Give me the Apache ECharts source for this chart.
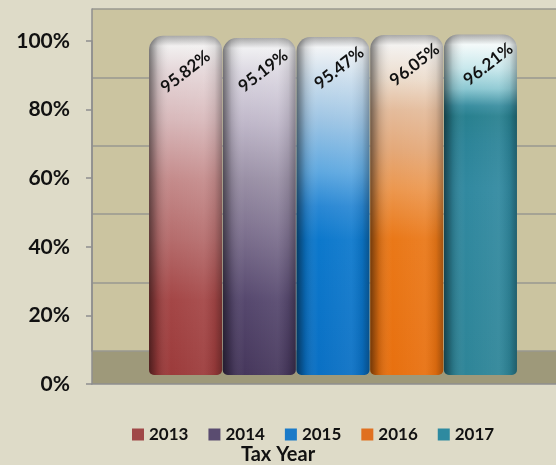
<!DOCTYPE html>
<html><head><meta charset="utf-8">
<script src="https://cdn.jsdelivr.net/npm/echarts@6/dist/echarts.min.js"></script>
<style>html,body{margin:0;padding:0;background:#dedbc8;}#c{width:556px;height:465px;}</style>
</head><body><div id="c"></div>
<script>
const years = ['2013', '2014', '2015', '2016', '2017'];
const values = [95.82, 95.19, 95.47, 96.05, 96.21];
const yTicks = [0, 20, 40, 60, 80, 100];
const axisTitle = 'Tax Year';

const gradStops = [
  [[0,'#a8a8a8'],[0.03,'#f2f0f0'],[0.1,'#e6d8da'],[0.25,'#d8b8ba'],[0.42,'#c58c8c'],[0.6,'#b56c6c'],[0.78,'#a44646'],[1,'#9c3b3b']],
  [[0,'#a8a8a8'],[0.03,'#f0f0f2'],[0.1,'#dcd8e2'],[0.25,'#c0b8ca'],[0.42,'#9a90a6'],[0.6,'#7a6d8c'],[0.78,'#56486e'],[1,'#46375c']],
  [[0,'#a8a8a8'],[0.03,'#f2f4f6'],[0.13,'#c8dcec'],[0.25,'#9cc4e4'],[0.4,'#5ea8e0'],[0.5,'#2a88d4'],[0.6,'#0c78cc'],[1,'#0a70c4']],
  [[0,'#a8a8a8'],[0.03,'#f4f2f0'],[0.13,'#ecdccc'],[0.22,'#e4bc9c'],[0.34,'#e4a878'],[0.45,'#ec9850'],[0.6,'#ea7818'],[1,'#e8700f']],
  [[0,'#a8a8a8'],[0.03,'#f4fafa'],[0.1,'#c8e8ec'],[0.16,'#8cc8d2'],[0.21,'#3a8ea0'],[0.24,'#28808f'],[0.32,'#2c8498'],[0.45,'#3189a0'],[1,'#2e8598']]
];
const legendColors = ['#a04848', '#5a4c70', '#1a7ac8', '#e07020', '#2e8aa0'];
const labelShift = [0, 5, 8, 10, 10];

const chart = echarts.init(document.getElementById('c'), null, {renderer: 'canvas'});
const FONT = 'Lato';
const grad = s => new echarts.graphic.LinearGradient(0, 0, 0, 1, s.map(([o, c]) => ({offset: o, color: c})));
const shade = new echarts.graphic.LinearGradient(0, 0, 1, 0, [
  {offset: 0, color: 'rgba(0,0,0,0.5)'},
  {offset: 0.12, color: 'rgba(0,0,0,0.14)'},
  {offset: 0.3, color: 'rgba(255,255,255,0.0)'},
  {offset: 0.75, color: 'rgba(255,255,255,0.06)'},
  {offset: 0.9, color: 'rgba(0,0,0,0.08)'},
  {offset: 1, color: 'rgba(0,0,0,0.3)'}
]);
const radius = [14, 14, 5, 5];
const BW = 73;

const series = [];
years.forEach((y, i) => {
  series.push({
    name: y, type: 'bar', xAxisIndex: 2, yAxisIndex: 2,
    data: [values[i]], barWidth: BW, barGap: '1%',
    itemStyle: {color: grad(gradStops[i]), borderRadius: radius},
    z: 3
  });
});
years.forEach((y, i) => {
  series.push({
    name: 'shade' + y, type: 'bar', xAxisIndex: 3, yAxisIndex: 2,
    data: [values[i]], barWidth: BW, barGap: '1%', silent: true,
    itemStyle: {color: shade, borderRadius: radius},
    label: {
      show: true, position: 'insideTop', distance: 36, rotate: 38,
      align: 'center', verticalAlign: 'middle', offset: [labelShift[i], 0],
      formatter: p => p.value.toFixed(2) + '%',
      fontFamily: FONT, fontWeight: 'bold', fontSize: 17, color: '#111'
    },
    z: 4
  });
});
series.push({name: 'floor', type: 'bar', xAxisIndex: 4, yAxisIndex: 4, data: [], silent: true});

chart.setOption({
  backgroundColor: '#dedbc8',
  animation: false,
  grid: [
    {left: 92, right: -40, top: 41, bottom: 81, show: false},
    {left: 92, right: -40, top: 9, bottom: 114, show: true, backgroundColor: '#cbc4a0', borderWidth: 0},
    {left: 149, right: 39, top: 21, bottom: 90, show: false},
    {left: 149, right: 39, top: 21, bottom: 90, show: false},
    {left: 92, right: -40, top: 351, bottom: 81, show: true, backgroundColor: '#9e997a', borderWidth: 0}
  ],
  xAxis: [
    {type: 'category', gridIndex: 0, data: [''], axisLine: {show: true, lineStyle: {color: '#8f8f8f', width: 1.5}}, axisTick: {show: false}, axisLabel: {show: false}, z: 5},
    {type: 'category', gridIndex: 1, data: [''], show: false},
    {type: 'category', gridIndex: 2, data: [''], show: false},
    {type: 'category', gridIndex: 2, data: [''], show: false},
    {type: 'category', gridIndex: 4, data: [''], show: false}
  ],
  yAxis: [
    {type: 'value', gridIndex: 0, min: yTicks[0], max: yTicks[yTicks.length - 1], interval: 20,
      axisLine: {show: true, lineStyle: {color: '#8f8f8f', width: 1.5}},
      axisTick: {show: true, length: 6, lineStyle: {color: '#8f8f8f', width: 1.5}},
      axisLabel: {formatter: '{value}%', margin: 22, fontFamily: FONT, fontWeight: 'bold', fontSize: 21, color: '#111'},
      splitLine: {show: false}, z: 5},
    {type: 'value', gridIndex: 1, min: yTicks[0], max: yTicks[yTicks.length - 1], interval: 20,
      axisLine: {show: true, lineStyle: {color: '#8f8f8f', width: 1.5}},
      axisTick: {show: false}, axisLabel: {show: false},
      splitLine: {show: true, lineStyle: {color: '#999890', width: 1.5}}},
    {type: 'value', gridIndex: 2, min: 0, max: 100, show: false, splitLine: {show: false}},
    {type: 'value', gridIndex: 3, min: 0, max: 100, show: false, splitLine: {show: false}},
    {type: 'value', gridIndex: 4, min: 0, max: 100, show: false, splitLine: {show: false}}
  ],
  legend: {
    data: years.map((y, i) => ({name: y, itemStyle: {color: legendColors[i]}})),
    left: 127, top: 421, itemWidth: 12, itemHeight: 12, itemGap: 20, icon: 'rect',
    textStyle: {fontFamily: FONT, fontWeight: 'bold', fontSize: 17, color: '#111'},
    selectedMode: false
  },
  title: {text: axisTitle, left: 'center', top: 440,
    textStyle: {fontFamily: FONT, fontWeight: 'bold', fontSize: 20, color: '#111'}},
  series: series
});
</script>
</body></html>
